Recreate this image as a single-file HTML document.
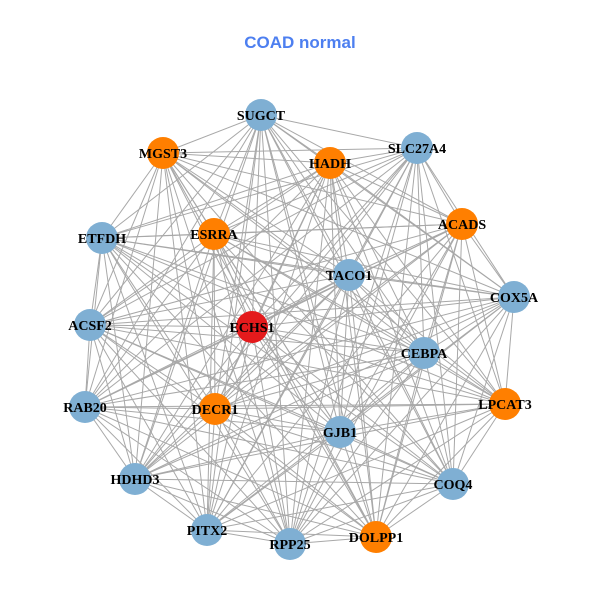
<!DOCTYPE html>
<html><head><meta charset="utf-8"><style>
html,body{margin:0;padding:0;background:#fff;}
svg{display:block;}
</style></head><body>
<svg id="s" width="600" height="600" xmlns="http://www.w3.org/2000/svg">
<rect width="600" height="600" fill="#fff"/>
<text x="300" y="48" text-anchor="middle" font-family="Liberation Sans, sans-serif" font-weight="bold" font-size="17" fill="#4D7FF0">COAD normal</text>
<g id="edges" stroke="#a8a8a8" stroke-width="1"></g>
<g id="nodes"></g>
</svg>
<script>
var N=[
["SUGCT",261,115,"b"],["MGST3",163,153,"o"],["HADH",330,163,"o"],["SLC27A4",417,148,"b"],
["ETFDH",102,238,"b"],["ESRRA",214,234,"o"],["ACADS",462,224,"o"],["TACO1",349,275,"b"],
["COX5A",514,297,"b"],["ACSF2",90,325,"b"],["ECHS1",252,327,"r"],["CEBPA",424,353,"b"],
["RAB20",85,407,"b"],["DECR1",215,409,"o"],["LPCAT3",505,404,"o"],["GJB1",340,432,"b"],
["HDHD3",135,479,"b"],["COQ4",453,484,"b"],["PITX2",207,530,"b"],["RPP25",290,544,"b"],["DOLPP1",376,537,"o"]];
var C={b:"#7FAFD3",o:"#FF7F00",r:"#E41A1C"};
var ns="http://www.w3.org/2000/svg",E=document.getElementById("edges"),G=document.getElementById("nodes");
for(var i=0;i<N.length;i++)for(var j=i+1;j<N.length;j++){
 var l=document.createElementNS(ns,"line");
 l.setAttribute("x1",N[i][1]);l.setAttribute("y1",N[i][2]);l.setAttribute("x2",N[j][1]);l.setAttribute("y2",N[j][2]);
 E.appendChild(l);}
N.forEach(function(n){
 var c=document.createElementNS(ns,"circle");
 c.setAttribute("cx",n[1]);c.setAttribute("cy",n[2]);c.setAttribute("r",16);c.setAttribute("fill",C[n[3]]);
 G.appendChild(c);
 var t=document.createElementNS(ns,"text");
 t.setAttribute("x",n[1]);t.setAttribute("y",n[2]+5);t.setAttribute("text-anchor","middle");
 t.setAttribute("font-family","Liberation Serif, serif");t.setAttribute("font-weight","bold");t.setAttribute("font-size","14");
 t.textContent=n[0];G.appendChild(t);});
</script>
</body></html>
